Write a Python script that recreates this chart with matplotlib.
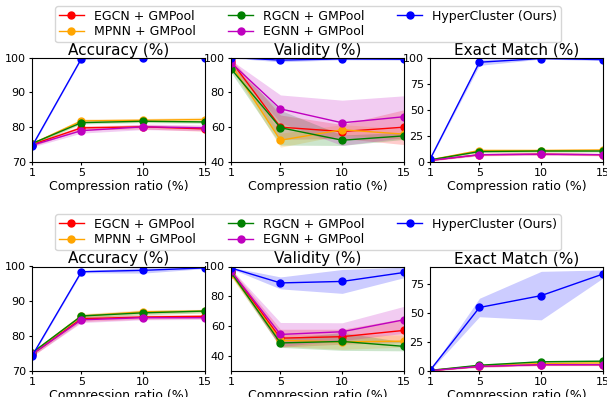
import matplotlib
matplotlib.use('Agg')
import matplotlib.pyplot as plt
import numpy as np

x = [1, 5, 10, 15]
models = ['EGCN + GMPool', 'MPNN + GMPool', 'RGCN + GMPool', 'EGNN + GMPool', 'HyperCluster (Ours)']
colors = ['red', 'orange', 'green', 'm', 'blue']

# top row: rows follow models order
acc_a = [[75.0, 79.8, 80.1, 79.5],
         [75.2, 81.8, 82.0, 82.2],
         [75.3, 81.3, 81.7, 81.5],
         [74.8, 79.0, 80.1, 79.8],
         [74.5, 99.7, 100.0, 100.0]]
acc_a_std = [[0.5, 0.6, 0.6, 0.7],
             [0.4, 0.6, 0.5, 0.7],
             [0.4, 0.4, 0.4, 0.4],
             [0.5, 0.7, 0.8, 0.8],
             [0.3, 0.2, 0.1, 0.1]]
val_a = [[98.0, 60.0, 57.5, 60.0],
         [96.0, 52.5, 58.5, 56.0],
         [93.5, 59.7, 52.5, 55.0],
         [97.0, 70.5, 62.5, 66.0],
         [100.0, 98.5, 99.2, 99.0]]
val_a_std = [[1.5, 7.0, 4.0, 10.0],
             [2.0, 4.0, 3.0, 3.0],
             [2.0, 10.0, 3.0, 2.0],
             [1.5, 8.0, 13.0, 12.0],
             [0.3, 1.0, 0.5, 0.5]]
em_a = [[1.5, 7.0, 7.5, 7.0],
        [2.0, 11.0, 11.0, 11.5],
        [2.0, 10.0, 10.5, 10.5],
        [1.5, 7.0, 7.5, 7.0],
        [2.5, 95.5, 99.0, 98.0]]
em_a_std = [[0.5, 1.0, 1.0, 1.0],
            [0.5, 1.5, 1.5, 1.5],
            [0.5, 1.0, 1.0, 1.0],
            [0.5, 1.0, 1.0, 1.0],
            [0.5, 3.0, 0.5, 1.0]]

# bottom row
acc_b = [[74.8, 85.0, 85.5, 85.7],
         [75.0, 85.8, 87.0, 87.2],
         [75.2, 85.8, 86.7, 87.2],
         [74.8, 84.7, 85.3, 85.3],
         [74.3, 98.5, 98.9, 99.6]]
acc_b_std = [[0.6, 0.8, 0.6, 0.5],
             [0.6, 0.7, 0.6, 0.5],
             [0.5, 0.5, 0.6, 0.5],
             [0.6, 0.8, 0.6, 0.5],
             [0.3, 0.3, 0.8, 0.2]]
val_b = [[97.0, 52.0, 53.0, 57.2],
         [95.0, 50.5, 49.5, 50.0],
         [96.0, 48.8, 49.8, 46.5],
         [97.0, 54.5, 56.3, 64.3],
         [99.0, 89.0, 90.0, 96.0]]
val_b_std = [[1.5, 6.0, 5.0, 8.0],
             [2.0, 4.0, 5.0, 4.0],
             [2.0, 3.0, 6.0, 3.0],
             [1.5, 8.0, 6.0, 9.0],
             [0.5, 4.0, 8.0, 3.5]]
em_b = [[0.3, 4.0, 5.5, 5.5],
        [0.5, 4.5, 6.5, 7.0],
        [0.5, 5.0, 8.0, 8.5],
        [0.3, 4.0, 5.5, 5.5],
        [0.5, 55.0, 65.3, 84.0]]
em_b_std = [[0.3, 0.8, 0.8, 0.8],
            [0.3, 0.8, 0.8, 0.8],
            [0.3, 0.8, 1.0, 1.0],
            [0.3, 0.8, 0.8, 0.8],
            [0.3, 8.0, 21.0, 3.5]]

titles = ['Accuracy (%)', 'Validity (%)', 'Exact Match (%)']

rows = [
    {'data': [(acc_a, acc_a_std), (val_a, val_a_std), (em_a, em_a_std)],
     'ylims': [(70, 100), (40, 100), (0, 100)],
     'yticks': [[70, 80, 90, 100], [40, 60, 80, 100], [0, 25, 50, 75, 100]],
     'bottom': 1 - 162 / 397, 'legend_top': 1 - 6 / 397},
    {'data': [(acc_b, acc_b_std), (val_b, val_b_std), (em_b, em_b_std)],
     'ylims': [(70, 100), (30, 100), (0, 90.5)],
     'yticks': [[70, 80, 90, 100], [40, 60, 80, 100], [0, 25, 50, 75]],
     'bottom': 1 - 371 / 397, 'legend_top': 1 - 214 / 397},
]

fig = plt.figure(figsize=(6.07, 3.97), dpi=100)
lefts = [32 / 607, 231 / 607, 430 / 607]
w = 173 / 607
h = 104.5 / 397

for row in rows:
    handles = []
    for j in range(3):
        ax = fig.add_axes([lefts[j], row['bottom'], w, h])
        mean, std = row['data'][j]
        for k in range(len(models)):
            m = np.array(mean[k])
            s = np.array(std[k])
            ax.fill_between(x, m - s, m + s, color=colors[k], alpha=0.2, linewidth=0)
            ln, = ax.plot(x, m, color=colors[k], marker='o', markersize=5,
                          linewidth=1, label=models[k])
            if j == 0:
                handles.append(ln)
        ax.set_xlim(1, 15)
        ax.set_ylim(*row['ylims'][j])
        ax.set_xticks(x)
        ax.set_yticks(row['yticks'][j])
        ax.tick_params(labelsize=8, length=2.5, pad=2)
        ax.set_title(titles[j], fontsize=11, pad=1.5)
        ax.set_xlabel('Compression ratio (%)', fontsize=9, labelpad=1.5)
    fig.legend(handles=handles, loc='upper center', ncol=3, fontsize=9,
               bbox_to_anchor=(0.5074, row['legend_top']), labelspacing=0.2,
               borderpad=0.3, borderaxespad=0, columnspacing=2.6)

fig.savefig('out.png', dpi=100)
